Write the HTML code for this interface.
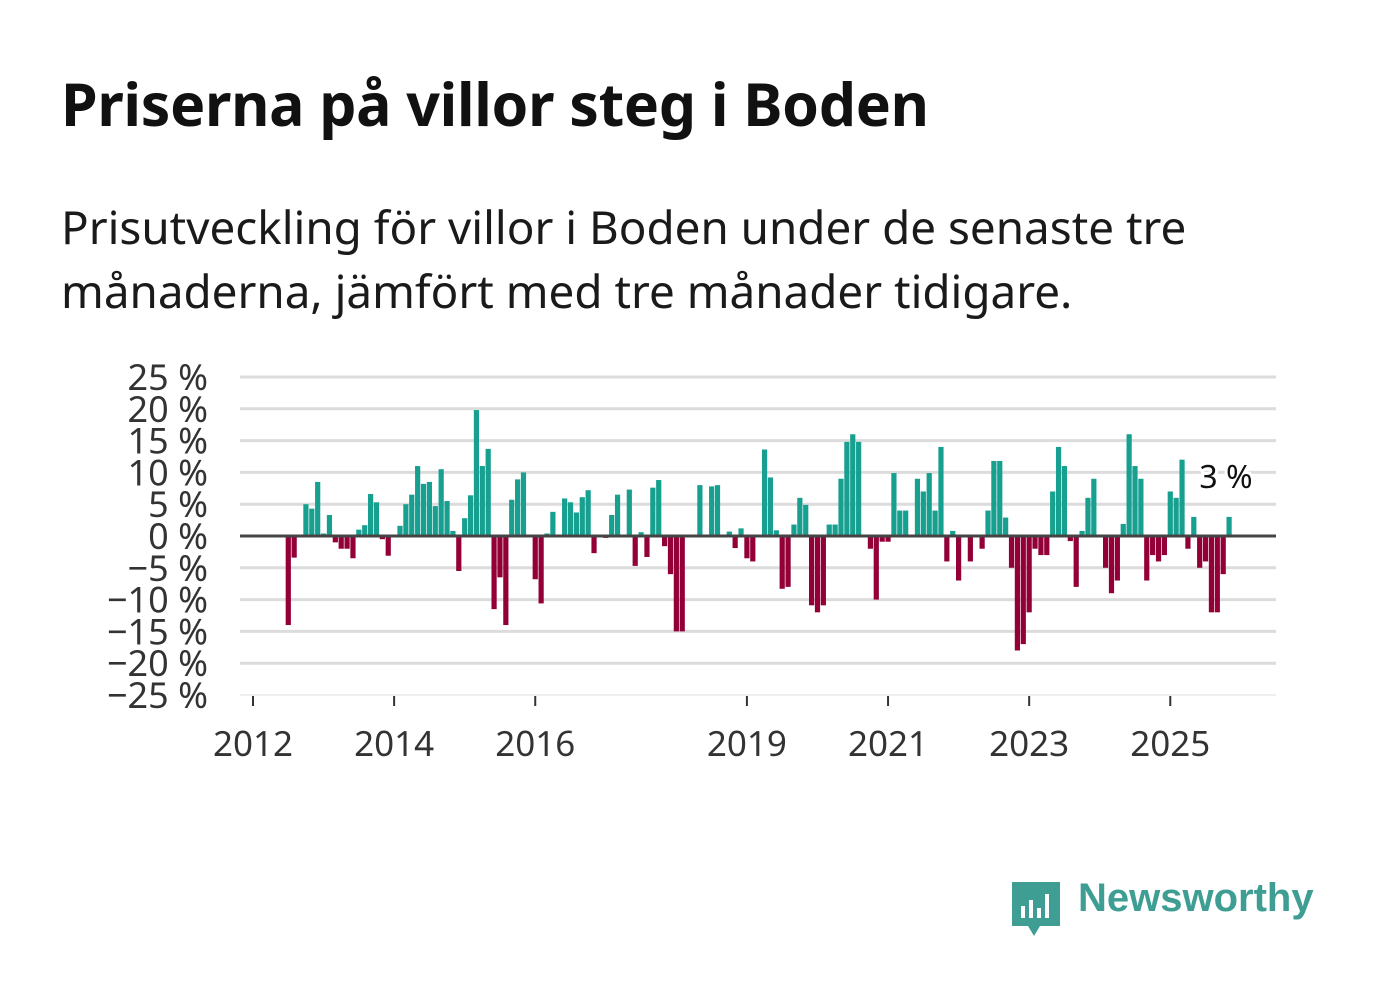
<!DOCTYPE html>
<html><head><meta charset="utf-8">
<style>
html,body{margin:0;padding:0;background:#fff;}
body{width:1382px;height:999px;overflow:hidden;position:relative;font-family:"Noto Sans","Liberation Sans","DejaVu Sans",sans-serif;color:#111;}
#title{position:absolute;left:61px;top:64px;font-size:59px;font-weight:bold;margin:0;letter-spacing:-0.3px;white-space:nowrap;}
#sub{position:absolute;left:61px;top:195px;font-size:45.8px;line-height:64px;color:#1a1a1a;margin:0;width:1200px;}
svg{position:absolute;left:0;top:0;}
</style></head><body>
<h1 id="title">Priserna på villor steg i Boden</h1>
<p id="sub">Prisutveckling för villor i Boden under de senaste tre månaderna, jämfört med tre månader tidigare.</p>
<svg id="chart" width="1382" height="999"></svg>
<div style="position:absolute;left:1012px;top:880px;">
<svg width="50" height="60" style="position:absolute;left:0;top:0"><path d="M0 2 h48 v44 h-20 l-6 10 l-6 -10 h-16z" fill="#3e9e94"/><rect x="9" y="26" width="4" height="12" fill="#fff"/><rect x="17" y="20" width="4" height="18" fill="#fff"/><rect x="25" y="28" width="4" height="10" fill="#fff"/><rect x="33" y="14" width="4" height="24" fill="#fff"/></svg>
<span style="position:absolute;left:66px;top:-4px;font-size:40px;font-weight:bold;color:#3e9e94;white-space:nowrap;font-family:'Liberation Sans',sans-serif;">Newsworthy</span>
</div>
<script>
const values = [null,null,null,null,null,null,-14,-3.4,null,5,4.3,8.5,0.4,3.3,-1,-2,-2,-3.5,1,1.7,6.6,5.3,-0.5,-3.1,null,1.6,5,6.5,11,8.2,8.5,4.7,10.5,5.5,0.8,-5.5,2.8,6.4,19.8,11,13.7,-11.5,-6.5,-14,5.7,8.9,10,null,-6.8,-10.6,0.4,3.8,null,5.9,5.3,3.7,6.1,7.2,-2.7,null,-0.3,3.3,6.5,null,7.3,-4.7,0.6,-3.3,7.6,8.8,-1.6,-6,-15,-15,null,0.2,8,null,7.8,8,null,0.7,-1.9,1.2,-3.5,-4,null,13.6,9.2,0.9,-8.3,-8,1.8,6,4.9,-10.9,-12,-10.9,1.8,1.8,9,14.8,16,14.8,null,-2,-10,-0.9,-0.9,9.9,4,4,null,9,7,9.9,4,14,-4,0.8,-7,null,-4,null,-2,4,11.8,11.8,2.9,-5,-18,-17,-12,-2,-3,-3,7,14,11,-0.8,-8,0.8,6,9,null,-5,-9,-7,1.9,16,11,9,-7,-3,-4,-3,7,6,12,-2,3,-5,-4,-12,-12,-6,3];
const yTicks = [25,20,15,10,5,0,-5,-10,-15,-20,-25];
const xTickYears = [2012,2014,2016,2019,2021,2023,2025];
const NS="http://www.w3.org/2000/svg";
const svg=document.getElementById('chart');
const X0=240,X1=1276,Y0=536,PX=6.36;
const y=v=>Y0-v*PX;
const xm=i=>253+i*5.88;
function mk(t,a){const e=document.createElementNS(NS,t);for(const k in a)e.setAttribute(k,a[k]);svg.appendChild(e);return e;}
yTicks.forEach(t=>{
  const l=mk('line',{x1:X0,x2:X1,y1:y(t),y2:y(t),stroke:'#dcdcdc','stroke-width':t===-25?1:3});
  
  
  const tx=mk('text',{x:208,y:y(t)+13,'text-anchor':'end','font-size':36,fill:'#333'});
  tx.textContent=(t<0?'\u2212'+(-t):t)+' %';
  
  
});
values.forEach((v,i)=>{
  if(v===null)return;
  const cx=xm(i);
  const r=mk('rect',{x:cx-2.6,width:5.2,y:v>=0?y(v):Y0,height:Math.abs(v)*PX,fill:v>=0?'#17a08f':'#930038'});
  
  
});
const z=mk('line',{x1:X0,x2:X1,y1:Y0,y2:Y0,stroke:'#444','stroke-width':3});


xTickYears.forEach(yr=>{
  const cx=xm((yr-2012)*12);
  const tk=mk('line',{x1:cx,x2:cx,y1:696,y2:706,stroke:'#333','stroke-width':2});
  
  
  const tx=mk('text',{x:cx,y:756,'text-anchor':'middle','font-size':35,fill:'#333'});
  tx.textContent=yr;
  
  
});
const last=values[values.length-1];
const lb=mk('text',{x:1226,y:y(last)-29,'text-anchor':'middle','font-size':32,fill:'#111',stroke:'#fff','stroke-width':6,'paint-order':'stroke'});
lb.textContent=last+' %';


</script>
</body></html>
